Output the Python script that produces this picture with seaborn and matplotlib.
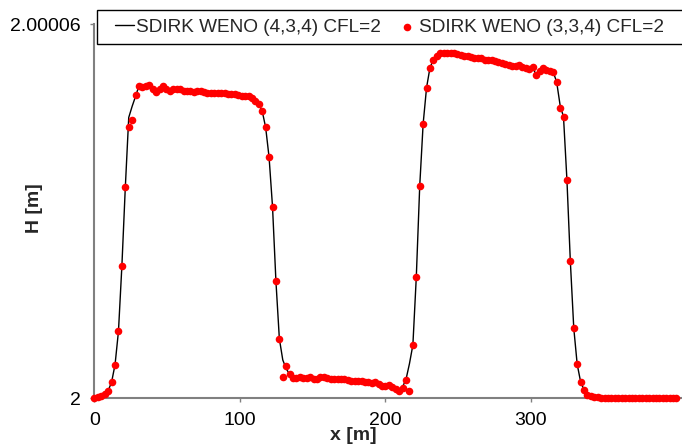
import numpy as np
import pandas as pd
import matplotlib
matplotlib.use("Agg")
import matplotlib.pyplot as plt
import seaborn as sns
from matplotlib.patches import Rectangle

# mesh: 171 nodes from 0 to 400 m
dx = 400 / 170

# H - 2 in units of 1e-6 m
dh_weno334 = [
    0.0, 0.16, 0.32, 0.64, 1.17, 2.57, 5.35, 10.7, 21.2, 33.8, 43.5, 44.6, 48.6, 50.1, 49.9,
    50.1, 50.2, 49.6, 49.1, 49.6, 50.0, 49.6, 49.3, 49.6, 49.6, 49.5, 49.2, 49.3, 49.2, 49.1,
    49.2, 49.3, 49.1, 48.9, 49.0, 49.0, 48.9, 48.9, 48.9, 48.8, 48.8, 48.7, 48.6, 48.5, 48.4,
    48.4, 48.1, 47.7, 47.2,
    46.0, 43.4, 38.6, 30.7, 18.7, 9.5, 3.4, 5.1, 3.9,
    3.2, 3.2, 3.3, 3.2, 3.2, 3.4, 3.1, 3.0, 3.3, 3.4, 3.2, 3.0, 3.1, 3.0, 3.0, 3.0, 2.9, 2.8,
    2.8, 2.8, 2.7, 2.6, 2.6, 2.4, 2.5, 2.2, 2.0, 2.0, 2.1, 1.8, 1.5, 1.1, 1.6, 2.9, 1.2,
    8.5, 19.4, 34.0, 44.0, 49.8, 53.0,
    54.3, 54.9, 55.3, 55.4, 55.4, 55.3, 55.3, 55.2, 55.0, 54.9, 54.9, 54.7, 54.6, 54.5, 54.5,
    54.3, 54.2, 54.2, 54.1, 53.9, 53.7, 53.6, 53.4, 53.3, 53.3, 53.4, 53.1, 52.9, 52.8, 53.1,
    51.8, 52.5, 52.9, 52.6, 52.5, 52.3,
    50.7, 46.5, 45.1, 35.0, 21.9, 11.2, 5.4, 2.6, 1.3, 0.56, 0.27, 0.16, 0.1,
    0.05, 0.03, 0.02, 0.01, 0.0, 0.0, 0.0, 0.0, 0.0, 0.0, 0.0, 0.0, 0.0, 0.0, 0.0, 0.0,
    0.0, 0.0, 0.0, 0.0, 0.0, 0.0, 0.0,
]

dh_weno434 = [
    0.0, 0.16, 0.32, 0.64, 1.17, 2.57, 5.35, 10.7, 21.2, 33.8, 45.0, 46.8, 48.4, 50.1, 49.9,
    50.1, 50.2, 49.6, 49.1, 49.6, 50.0, 49.6, 49.3, 49.6, 49.6, 49.5, 49.2, 49.3, 49.2, 49.1,
    49.2, 49.3, 49.1, 48.9, 49.0, 49.0, 48.9, 48.9, 48.9, 48.8, 48.8, 48.7, 48.6, 48.5, 48.4,
    48.4, 48.1, 47.7, 47.2,
    46.0, 43.4, 38.6, 30.7, 18.7, 9.5, 6.1, 4.7, 3.8,
    3.2, 3.2, 3.3, 3.2, 3.2, 3.4, 3.1, 3.0, 3.3, 3.4, 3.2, 3.0, 3.1, 3.0, 3.0, 3.0, 2.9, 2.8,
    2.8, 2.8, 2.7, 2.6, 2.6, 2.4, 2.5, 2.2, 2.0, 2.0, 2.1, 1.8, 1.5, 1.1, 1.8, 3.0, 5.5,
    8.5, 19.4, 34.0, 44.0, 49.8, 53.0,
    54.3, 54.9, 55.3, 55.4, 55.4, 55.3, 55.3, 55.2, 55.0, 54.9, 54.9, 54.7, 54.6, 54.5, 54.5,
    54.3, 54.2, 54.2, 54.1, 53.9, 53.7, 53.6, 53.4, 53.3, 53.3, 53.4, 53.1, 52.9, 52.8, 53.1,
    51.8, 52.5, 52.9, 52.6, 52.5, 52.3,
    50.7, 47.0, 45.1, 35.0, 21.9, 11.2, 5.4, 2.6, 1.3, 0.56, 0.27, 0.16, 0.1,
    0.05, 0.03, 0.02, 0.01, 0.0, 0.0, 0.0, 0.0, 0.0, 0.0, 0.0, 0.0, 0.0, 0.0, 0.0, 0.0,
    0.0, 0.0, 0.0, 0.0, 0.0, 0.0, 0.0,
]

label_434 = "SDIRK WENO (4,3,4) CFL=2"
label_334 = "SDIRK WENO (3,3,4) CFL=2"
x_ticks = [0, 100, 200, 300]
y_ticks = [2, 2.00006]
y_ticklabels = ["2", "2.00006"]

x = np.arange(len(dh_weno334)) * dx
df = pd.DataFrame({
    "x": x,
    "h434": 2 + np.array(dh_weno434) * 1e-6,
    "h334": 2 + np.array(dh_weno334) * 1e-6,
})

sns.set_theme(style="white")
plt.rcParams["font.family"] = ["Liberation Sans", "DejaVu Sans"]

W, H = 682, 448
fig = plt.figure(figsize=(W / 100, H / 100), dpi=100)
ax = fig.add_axes([94.5 / W, 50 / H, 587.5 / W, 374 / H])

sns.lineplot(data=df, x="x", y="h434", color="black", lw=1.0, ax=ax,
             label=label_434, zorder=2)
sns.scatterplot(data=df, x="x", y="h334", color="red", s=30, linewidth=0, ax=ax,
                label=label_334, zorder=3, clip_on=False)

ax.set_xlim(0, 403.8)
ax.set_ylim(2, 2.00006)
ax.set_xticks(x_ticks)
ax.set_xticklabels([str(t) for t in x_ticks])
ax.set_yticks(y_ticks)
ax.set_yticklabels(y_ticklabels)
ax.tick_params(axis="both", which="major", direction="out", length=3, width=1,
               color="#808080", labelsize=14, labelcolor="black", pad=7,
               bottom=True, left=True)

for side in ["top", "right"]:
    ax.spines[side].set_visible(False)
for side in ["left", "bottom"]:
    ax.spines[side].set_color("#808080")
    ax.spines[side].set_linewidth(1.5)

ax.set_xlabel("x [m]", fontsize=14, fontweight="bold")
ax.set_ylabel("H [m]", fontsize=14, fontweight="bold")
ax.xaxis.label.set_va("center")
ax.yaxis.label.set_va("center")
ax.xaxis.set_label_coords((353 - 94.5) / 587.5, -(435 - 398) / 374)
ax.yaxis.set_label_coords((35 - 94.5) / 587.5, (398 - 208) / 374)

handles, labels = ax.get_legend_handles_labels()
if ax.get_legend() is not None:
    ax.get_legend().remove()

# legend box sits over the top of the plot area
fig.patches.append(Rectangle((97 / W, 1 - 44 / H), (700 - 97) / W, 34 / H,
                             transform=fig.transFigure, facecolor="white",
                             edgecolor="black", lw=1.0, zorder=4))
fig.legend(handles, labels, loc="center left",
           bbox_to_anchor=(115 / W, 1 - 27 / H), bbox_transform=fig.transFigure,
           frameon=False, ncol=2, fontsize=13.7, handlelength=1.0, handletextpad=0.1,
           columnspacing=0.9, borderpad=0, borderaxespad=0, scatterpoints=1)

fig.savefig("out.png", dpi=100)
